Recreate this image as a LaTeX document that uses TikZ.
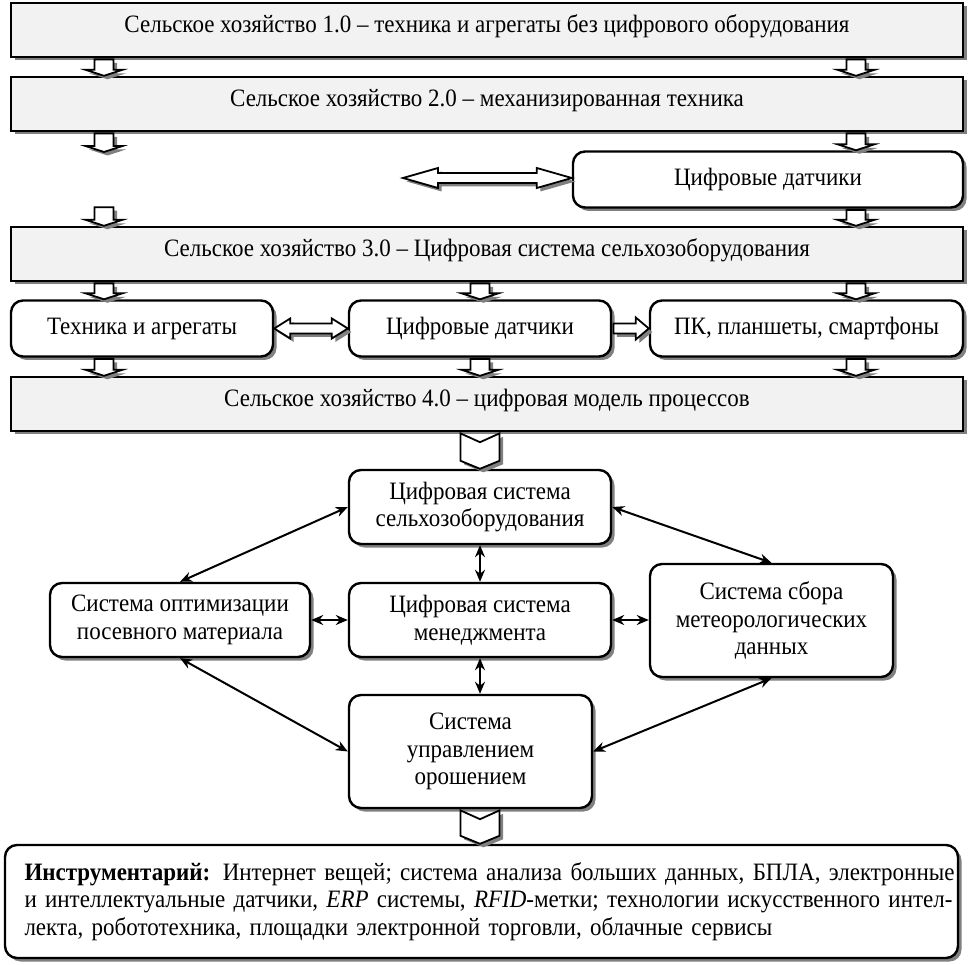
\documentclass[tikz,border=0pt]{standalone}
\usepackage{fontspec}
\setmainfont{Liberation Serif}[FakeStretch=0.92]
\usetikzlibrary{shadows,calc,arrows.meta}
\newcommand\vblk[3]{% x, upper point, lower point
  \path[blk] let \p1=#2, \p2=#3 in
  ({#1pt-9.5pt},{\y1-1.2pt}) -- ({#1pt+9.5pt},{\y1-1.2pt}) -- ({#1pt+9.5pt},{\y2+6pt}) --
  ({#1pt+18.5pt},{\y2+6pt}) -- ({#1pt},{\y2}) -- ({#1pt-18.5pt},{\y2+6pt}) --
  ({#1pt-9.5pt},{\y2+6pt}) -- cycle;}
\newcommand\chev[3]{% x, upper point, lower point
  \path[blk] let \p1=#2, \p2=#3 in
  ({#1pt-19.5pt},{\y1-1.2pt}) -- ({#1pt},{\y1-10pt}) -- ({#1pt+19.5pt},{\y1-1.2pt}) --
  ({#1pt+19.5pt},{\y2+8pt}) -- ({#1pt},{\y2}) -- ({#1pt-19.5pt},{\y2+8pt}) -- cycle;}
% double horizontal block arrow: left point, right point, head length
\newcommand\hdbl[3]{%
  \path[blk] let \p1=#1, \p2=#2 in
  (\x1,\y1) -- ({\x1+#3pt},{\y1+10pt}) -- ({\x1+#3pt},{\y1+5pt}) -- ({\x2-#3pt},{\y1+5pt}) --
  ({\x2-#3pt},{\y1+10pt}) -- (\x2,\y1) -- ({\x2-#3pt},{\y1-10pt}) -- ({\x2-#3pt},{\y1-5pt}) --
  ({\x1+#3pt},{\y1-5pt}) -- ({\x1+#3pt},{\y1-10pt}) -- cycle;}
\newcommand\hsgl[3]{%
  \path[blk] let \p1=#1, \p2=#2 in
  ({\x1+1.2pt},{\y1+5pt}) -- ({\x2-#3pt},{\y1+5pt}) -- ({\x2-#3pt},{\y1+11pt}) -- (\x2,\y1) --
  ({\x2-#3pt},{\y1-11pt}) -- ({\x2-#3pt},{\y1-5pt}) -- ({\x1+1.2pt},{\y1-5pt}) -- cycle;}
\begin{document}
\begin{tikzpicture}[x=1pt,y=-1pt,
  every node/.style={font=\fontsize{25}{27.5}\selectfont},
  shad/.style={drop shadow={shadow xshift=3.5pt, shadow yshift=-3.5pt, fill=black!50, opacity=1}},
  stage/.style={draw, line width=2.4pt, fill=black!5, minimum width=952pt, minimum height=54pt, inner sep=0pt,
    text height=17.5pt, text depth=13pt, shad},
  rbox/.style={draw, line width=2.4pt, fill=white, rounded corners=12pt, align=center, inner sep=0pt, shad},
  blk/.style={draw, line width=1.8pt, fill=white, line join=miter, shad},
  con/.style={{Stealth[length=12pt,width=10pt]}-{Stealth[length=12pt,width=10pt]}, line width=2pt},
]
\useasboundingbox (0,0) rectangle (972,965);

% stage boxes
\node[stage] (b1) at (487,30) {Сельское хозяйство 1.0 – техника и агрегаты без цифрового оборудования};
\node[stage] (b2) at (487,104) {Сельское хозяйство 2.0 – механизированная техника};
\node[rbox, minimum width=390pt, minimum height=56pt] (ds1) at (768,179.5) {Цифровые датчики};
\node[stage] (b3) at (487,254) {Сельское хозяйство 3.0 – Цифровая система сельхозоборудования};
\node[rbox, minimum width=262pt, minimum height=56pt] (r1) at (142,328.5) {Техника и агрегаты};
\node[rbox, minimum width=262pt, minimum height=56pt] (r2) at (480,328.5) {Цифровые датчики};
\node[rbox, minimum width=313pt, minimum height=56pt] (r3) at (806.5,328.5) {ПК, планшеты, смартфоны};
\node[stage] (b4) at (487,404) {Сельское хозяйство 4.0 – цифровая модель процессов};

% lower network
\node[rbox, minimum width=262pt, minimum height=74pt] (c1) at (480,507) {Цифровая система\\сельхозоборудования};
\node[rbox, minimum width=260pt, minimum height=74pt] (c2) at (180,620) {Система оптимизации\\посевного материала};
\node[rbox, minimum width=262pt, minimum height=74pt] (c3) at (480,620) {Цифровая система\\менеджмента};
\node[rbox, minimum width=243pt, minimum height=113pt] (c4) at (771.5,620.5) {Система сбора\\метеорологических\\данных};
\node[rbox, minimum width=243pt, minimum height=113pt] (c5) at (470.5,751.5) {Система\\управлением\\орошением};
\node[rbox, minimum width=953pt, minimum height=113pt, text width=914pt, align=left] (inst) at (481.5,901.5)
 {\makebox[914pt][s]{\textbf{Инструментарий:} Интернет вещей; система анализа больших данных, БПЛА, электронные}\\
  \makebox[914pt][s]{и интеллектуальные датчики, \textit{ERP} системы, \textit{RFID}-метки; технологии искусственного интел-}\\
  лекта, робототехника, площадки электронной торговли, облачные сервисы};

% free ends
\coordinate (l1) at (104,152);
\coordinate (l2) at (104,206);
\coordinate (dl) at (403,178);

% block arrows
\vblk{104}{(b1.south)}{(b2.north)}
\vblk{856}{(b1.south)}{(b2.north)}
\vblk{104}{(b2.south)}{(l1)}
\vblk{856}{(b2.south)}{(ds1.north)}
\vblk{104}{(l2)}{(b3.north)}
\vblk{856}{(ds1.south)}{(b3.north)}
\vblk{104}{(b3.south)}{(r1.north)}
\vblk{480}{(b3.south)}{(r2.north)}
\vblk{856}{(b3.south)}{(r3.north)}
\vblk{104}{(r1.south)}{(b4.north)}
\vblk{480}{(r2.south)}{(b4.north)}
\vblk{856}{(r3.south)}{(b4.north)}
\hdbl{(dl)}{(ds1.west)}{35}
\hdbl{(r1.east)}{(r2.west)}{16}
\hsgl{(r2.east)}{(r3.west)}{13}
\chev{480}{(b4.south)}{(c1.north)}
\chev{480}{(c5.south)}{(inst.north)}

% connectors
\draw[con] (c1.west) -- (c2.north);
\draw[con] (c1.east) -- (c4.north);
\draw[con] (c1.south) -- (c3.north);
\draw[con] (c2.east) -- (c3.west);
\draw[con] (c3.east) -- (c4.west |- c3.east);
\draw[con] (c3.south) -- (c5.north -| c3.south);
\draw[con] (c2.south) -- (c5.west);
\draw[con] (c4.south) -- (c5.east);
\end{tikzpicture}
\end{document}
